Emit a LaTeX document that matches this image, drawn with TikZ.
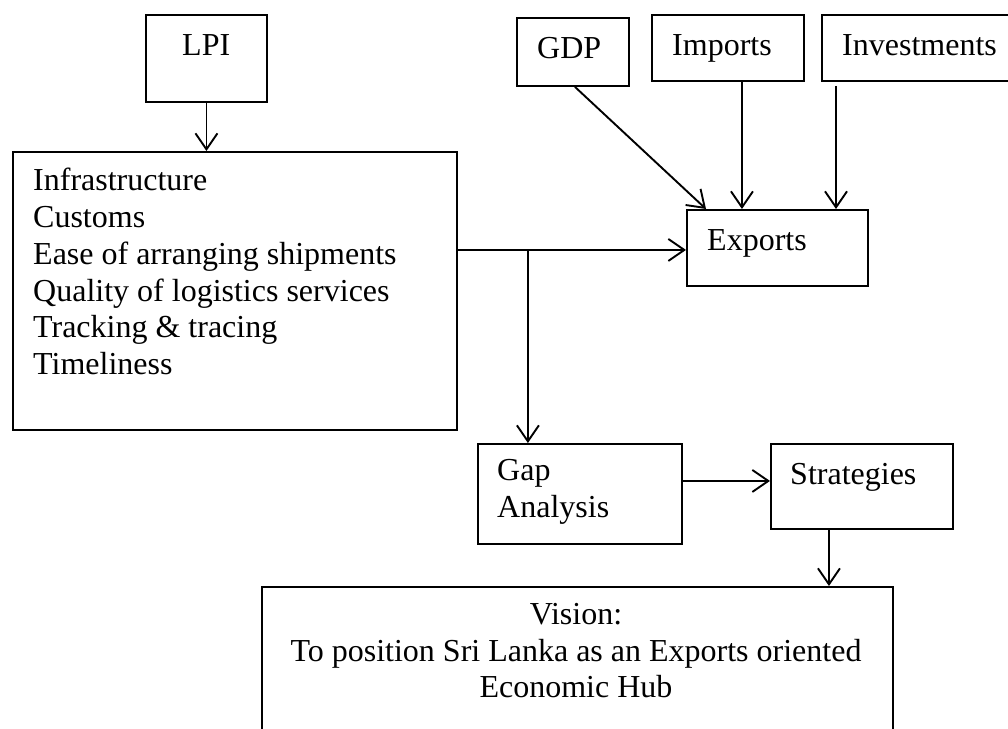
\documentclass[tikz,border=0pt]{standalone}
\usepackage{fontspec}
\setmainfont{Liberation Serif}
\usetikzlibrary{arrows.meta,calc}
\tikzset{
  box/.style={draw, line width=1.9pt, rectangle, inner sep=0pt, anchor=north west},
  lbl/.style={anchor=base west, inner sep=0pt, font=\fontsize{32}{36.8}\selectfont},
  arr/.style={line width=1.9pt, -{Straight Barb[length=16pt,width=22pt,line width=1.9pt]}}
}
\begin{document}
\begin{tikzpicture}[x=1pt,y=-1pt]
\useasboundingbox (0,0) rectangle (1008,728);
\clip (0,0) rectangle (1008,728);

% boxes
\node[box, minimum width=121pt, minimum height=87pt] (lpi) at (145,14) {};
\node[box, minimum width=444pt, minimum height=278pt] (ind) at (12,151) {};
\node[box, minimum width=112pt, minimum height=68pt] (gdp) at (516,17) {};
\node[box, minimum width=152pt, minimum height=66pt] (imp) at (651,14) {};
\node[box, minimum width=210pt, minimum height=66pt] (inv) at (821,14) {};
\node[box, minimum width=181pt, minimum height=76pt] (exp) at (686,209) {};
\node[box, minimum width=204pt, minimum height=100pt] (gap) at (477,443) {};
\node[box, minimum width=182pt, minimum height=85pt] (str) at (770,443) {};
\node[box, minimum width=631pt, minimum height=170pt] (vis) at (261,586) {};

% texts
\node[lbl] (tlpi) at (182,55) {LPI};
\node[lbl, align=left, anchor=north west] (tind) at (33,168) {Infrastructure\\Customs\\Ease of arranging shipments\\Quality of logistics services\\Tracking \& tracing\\Timeliness};
\node[lbl] (tgdp) at (537,58) {GDP};
\node[lbl] (timp) at (672,55) {Imports};
\node[lbl] (tinv) at (842,55) {Investments};
\node[lbl] (texp) at (707,250) {Exports};
\node[lbl, align=left, anchor=north west] (tgap) at (497,459) {Gap\\Analysis};
\node[lbl] (tstr) at (790,484) {Strategies};
\node[lbl, align=center, anchor=north] (tvis) at (576,603) {Vision:\\To position Sri Lanka as an Exports oriented\\Economic Hub};

% connectors
\coordinate (j) at ($(ind.east |- exp.west)+(70,2)$);
\draw[arr] (lpi.south) -- (ind.north -| lpi.south);
\draw[arr] ($(ind.east |- exp.west)+(0,2)$) -- ($(exp.west)+(0,2)$);
\draw[arr] (j) -- (j |- gap.north);
\draw[arr] ($(gdp.south)+(2,0)$) -- ($(exp.north west)+(20,0)$);
\draw[arr] ($(imp.south)+(14,0)$) -- ($(imp.south |- exp.north)+(14,0)$);
\draw[arr] ($(inv.south west)+(15,4)$) -- ($(inv.south west |- exp.north)+(15,0)$);
\draw[arr] ($(gap.east)+(0,-13)$) -- ($(str.west |- gap.east)+(0,-13)$);
\draw[arr] ($(str.south)+(-33,0)$) -- ($(str.south |- vis.north)+(-33,0)$);
\end{tikzpicture}
\end{document}
